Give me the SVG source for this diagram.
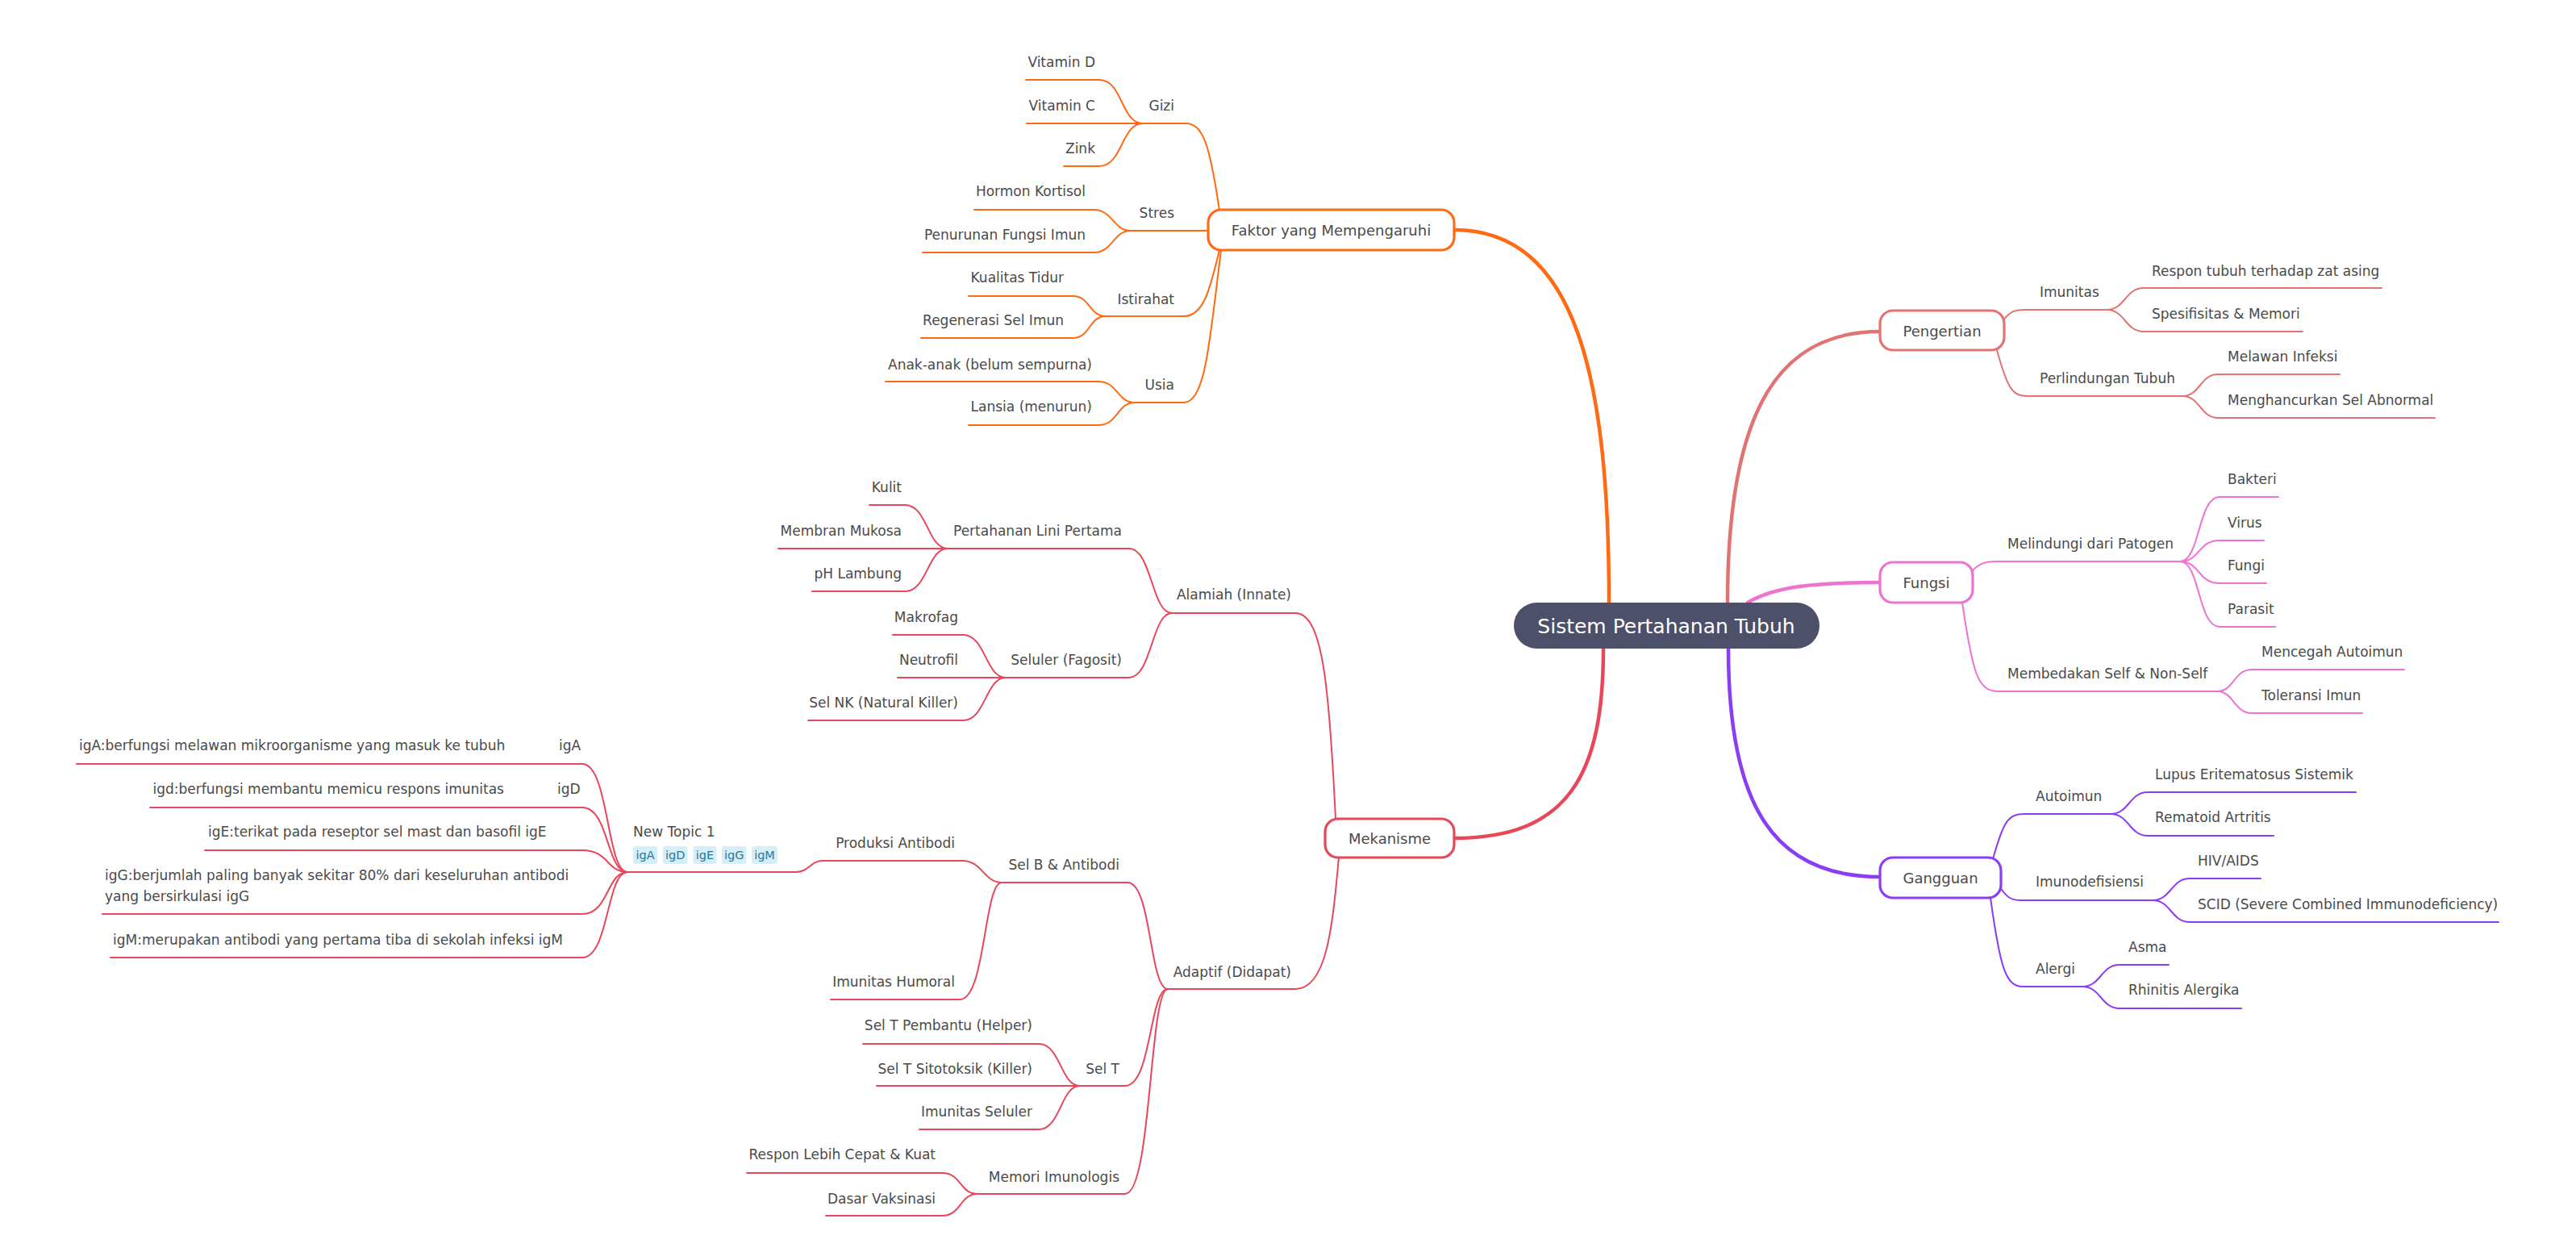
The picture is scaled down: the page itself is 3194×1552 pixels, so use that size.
<svg xmlns="http://www.w3.org/2000/svg" width="3194" height="1552" viewBox="0 0 3194 1552">
<style>
text{font-family:"DejaVu Sans","Liberation Sans",sans-serif;font-size:17px;fill:#4a4a4a}
.e{text-anchor:end}
.mid{text-anchor:middle}
.big{font-size:18px}
.root{font-size:25px;fill:#ffffff}
.tag{font-size:14.5px;fill:#2b7896}
.tagbg{fill:#d4eff7}
path,line{fill:none;stroke-linecap:round}
.o{stroke:#ff6a13}.r{stroke:#e8475a}.s{stroke:#e07472}.p{stroke:#ec74cf}.v{stroke:#8b3cf5}
.thin{stroke-width:2}
.main{stroke-width:4.5}
.box{fill:#ffffff;stroke-width:3.2}
</style>
<rect width="3194" height="1552" fill="#ffffff"/>
<g id="connectors">
<path class="o main" d="M1803,285 C1955,285 1995,470 1995,747"/>
<path class="r main" d="M1803,1039 C1945,1039 1988,960 1988,804"/>
<path class="s main" d="M2142,747 C2142,500 2210,411 2331,411"/>
<path class="p main" d="M2167,747 C2200,727 2250,722 2331,722"/>
<path class="v main" d="M2143,804 C2143,1000 2200,1087 2331,1087"/>
<g class="o thin">
<path d="M1470,153 C1492,153 1500,180 1512,261"/>
<path d="M1363,99 C1392,99 1390,153 1417,153"/>
<path d="M1363,153 L1417,153"/>
<path d="M1363,206 C1392,206 1390,153 1417,153"/>
<path d="M1460,286 L1498,286"/>
<path d="M1356,260 C1380,260 1380,286 1402,286"/>
<path d="M1356,313 C1380,313 1380,286 1402,286"/>
<path d="M1468,392 C1492,392 1500,360 1512,310"/>
<path d="M1330,367 C1352,367 1350,392 1371,392"/>
<path d="M1330,419 C1352,419 1350,392 1371,392"/>
<path d="M1468,499 C1495,499 1500,420 1514,310"/>
<path d="M1362,473 C1386,473 1385,499 1407,499"/>
<path d="M1362,527 C1386,527 1385,499 1407,499"/>
</g>
<g class="r thin">
<path d="M1606,760 C1640,760 1648,850 1656,1015"/>
<path d="M1400,680 C1428,680 1428,760 1453,760"/>
<path d="M1122,626 C1150,626 1150,680 1175,680"/>
<path d="M1122,680 L1175,680"/>
<path d="M1122,733 C1150,733 1150,680 1175,680"/>
<path d="M1400,840 C1428,840 1428,760 1453,760"/>
<path d="M1194,787 C1222,787 1222,840 1247,840"/>
<path d="M1194,840 L1247,840"/>
<path d="M1194,893 C1222,893 1222,840 1247,840"/>
<path d="M1606,1226 C1645,1226 1652,1150 1660,1063"/>
<path d="M1398,1094 C1428,1094 1425,1226 1448,1226"/>
<path d="M1193,1067 C1218,1067 1220,1094 1242,1094"/>
<path d="M987,1081 C1003,1081 1005,1067 1020,1067"/>
<path d="M722,947 C755,947 752,1081 778,1081"/>
<path d="M722,1001 C755,1001 752,1081 778,1081"/>
<path d="M722,1054 C755,1054 752,1081 778,1081"/>
<path d="M722,1133 C755,1133 752,1081 778,1081"/>
<path d="M722,1187 C755,1187 752,1081 778,1081"/>
<path d="M1190,1239 C1222,1239 1220,1094 1242,1094"/>
<path d="M1395,1346 C1428,1346 1425,1226 1448,1226"/>
<path d="M1288,1294 C1315,1294 1315,1346 1339,1346"/>
<path d="M1288,1346 L1339,1346"/>
<path d="M1288,1400 C1315,1400 1315,1346 1339,1346"/>
<path d="M1395,1480 C1428,1480 1425,1226 1448,1226"/>
<path d="M1168,1454 C1192,1454 1190,1480 1212,1480"/>
<path d="M1168,1507 C1192,1507 1190,1480 1212,1480"/>
</g>
<g class="s thin">
<path d="M2484,397 C2492,386 2498,384 2512,384"/>
<path d="M2612,384 C2635,384 2635,357 2658,357"/>
<path d="M2612,384 C2635,384 2635,411 2658,411"/>
<path d="M2476,434 C2490,485 2496,491 2515,491"/>
<path d="M2706,491 C2728,491 2728,464 2750,464"/>
<path d="M2706,491 C2728,491 2728,518 2750,518"/>
</g>
<g class="p thin">
<path d="M2446,707 C2455,698 2462,696 2476,696"/>
<path d="M2703,696 C2728,696 2725,616 2752,616"/>
<path d="M2703,696 C2728,696 2725,670 2752,670"/>
<path d="M2703,696 C2728,696 2725,723 2752,723"/>
<path d="M2703,696 C2728,696 2725,777 2752,777"/>
<path d="M2433,747 C2446,835 2452,857 2478,857"/>
<path d="M2749,857 C2770,857 2770,830 2792,830"/>
<path d="M2749,857 C2770,857 2770,884 2792,884"/>
</g>
<g class="v thin">
<path d="M2471,1065 C2484,1018 2490,1009 2510,1009"/>
<path d="M2617,1009 C2640,1009 2640,982 2663,982"/>
<path d="M2617,1009 C2640,1009 2640,1036 2663,1036"/>
<path d="M2480,1100 C2488,1112 2493,1116 2506,1116"/>
<path d="M2669,1116 C2692,1116 2692,1089 2715,1089"/>
<path d="M2669,1116 C2692,1116 2692,1143 2715,1143"/>
<path d="M2468,1113 C2480,1200 2487,1223 2508,1223"/>
<path d="M2582,1223 C2605,1223 2605,1196 2628,1196"/>
<path d="M2582,1223 C2605,1223 2605,1250 2628,1250"/>
</g>
</g>

<g id="root"><rect x="1877" y="747" width="379" height="57" rx="28.5" fill="#4c506a"/><text class="root mid" x="2066" y="785">Sistem Pertahanan Tubuh</text></g>

<g id="faktor"><rect class="box o" x="1498" y="260" width="305" height="50" rx="16"/><text class="big mid" x="1650.5" y="292">Faktor yang Mempengaruhi</text></g>
<g id="gizi"><text class="e" x="1456" y="137">Gizi</text><path class="o thin" d="M1417,153 H1470"/></g>
<g id="vitd"><text class="e" x="1358" y="83">Vitamin D</text><path class="o thin" d="M1272,99 H1363"/></g>
<g id="vitc"><text class="e" x="1358" y="137">Vitamin C</text><path class="o thin" d="M1273,153 H1363"/></g>
<g id="zink"><text class="e" x="1358" y="190">Zink</text><path class="o thin" d="M1319,206 H1363"/></g>
<g id="stres"><text class="e" x="1456" y="270">Stres</text><path class="o thin" d="M1402,286 H1460"/></g>
<g id="kortisol"><text class="e" x="1346" y="243">Hormon Kortisol</text><path class="o thin" d="M1208,260 H1356"/></g>
<g id="penurunan"><text class="e" x="1346" y="297">Penurunan Fungsi Imun</text><path class="o thin" d="M1144,313 H1356"/></g>
<g id="istirahat"><text class="e" x="1456" y="377">Istirahat</text><path class="o thin" d="M1371,392 H1468"/></g>
<g id="tidur"><text class="e" x="1319" y="350">Kualitas Tidur</text><path class="o thin" d="M1201,367 H1330"/></g>
<g id="regenerasi"><text class="e" x="1319" y="403">Regenerasi Sel Imun</text><path class="o thin" d="M1142,419 H1330"/></g>
<g id="usia"><text class="e" x="1456" y="483">Usia</text><path class="o thin" d="M1407,499 H1468"/></g>
<g id="anak"><text class="e" x="1354" y="458">Anak-anak (belum sempurna)</text><path class="o thin" d="M1098,473 H1362"/></g>
<g id="lansia"><text class="e" x="1354" y="510">Lansia (menurun)</text><path class="o thin" d="M1201,527 H1362"/></g>

<g id="mekanisme"><rect class="box r" x="1643" y="1015" width="160" height="48" rx="16"/><text class="big mid" x="1723" y="1046">Mekanisme</text></g>
<g id="alamiah"><text class="e" x="1601" y="743">Alamiah (Innate)</text><path class="r thin" d="M1453,760 H1606"/></g>
<g id="lini"><text class="e" x="1391" y="664">Pertahanan Lini Pertama</text><path class="r thin" d="M1175,680 H1400"/></g>
<g id="kulit"><text class="e" x="1118" y="610">Kulit</text><path class="r thin" d="M1078,626 H1122"/></g>
<g id="mukosa"><text class="e" x="1118" y="664">Membran Mukosa</text><path class="r thin" d="M965,680 H1122"/></g>
<g id="ph"><text class="e" x="1118" y="717">pH Lambung</text><path class="r thin" d="M1007,733 H1122"/></g>
<g id="seluler"><text class="e" x="1391" y="824">Seluler (Fagosit)</text><path class="r thin" d="M1247,840 H1400"/></g>
<g id="makrofag"><text class="e" x="1188" y="771">Makrofag</text><path class="r thin" d="M1107,787 H1194"/></g>
<g id="neutrofil"><text class="e" x="1188" y="824">Neutrofil</text><path class="r thin" d="M1113,840 H1194"/></g>
<g id="nk"><text class="e" x="1188" y="877">Sel NK (Natural Killer)</text><path class="r thin" d="M1002,893 H1194"/></g>
<g id="adaptif"><text class="e" x="1601" y="1211">Adaptif (Didapat)</text><path class="r thin" d="M1448,1226 H1606"/></g>
<g id="selb"><text class="e" x="1388" y="1078">Sel B &amp; Antibodi</text><path class="r thin" d="M1242,1094 H1398"/></g>
<g id="produksi"><text class="e" x="1184" y="1051">Produksi Antibodi</text><path class="r thin" d="M1020,1067 H1193"/></g>
<g id="newtopic"><text x="785" y="1037">New Topic 1</text><path class="r thin" d="M778,1081 H987"/>
<rect class="tagbg" x="785" y="1049" width="30" height="22" rx="3"/><text class="tag mid" x="800" y="1065">igA</text>
<rect class="tagbg" x="822" y="1049" width="30.5" height="22" rx="3"/><text class="tag mid" x="837.2" y="1065">igD</text>
<rect class="tagbg" x="859.5" y="1049" width="29" height="22" rx="3"/><text class="tag mid" x="874" y="1065">igE</text>
<rect class="tagbg" x="895" y="1049" width="30.5" height="22" rx="3"/><text class="tag mid" x="910.2" y="1065">igG</text>
<rect class="tagbg" x="932" y="1049" width="32" height="22" rx="3"/><text class="tag mid" x="948" y="1065">igM</text></g>
<g id="iga"><text y="930"><tspan x="98">igA:berfungsi melawan mikroorganisme yang masuk ke tubuh</tspan><tspan x="693">igA</tspan></text><path class="r thin" d="M95,947 H722"/></g>
<g id="igd"><text y="984"><tspan x="189.5">igd:berfungsi membantu memicu respons imunitas</tspan><tspan x="691">igD</tspan></text><path class="r thin" d="M186,1001 H722"/></g>
<g id="ige"><text x="258" y="1037">igE:terikat pada reseptor sel mast dan basofil igE</text><path class="r thin" d="M254,1054 H722"/></g>
<g id="igg"><text x="130" y="1091">igG:berjumlah paling banyak sekitar 80% dari keseluruhan antibodi</text><text x="130" y="1117">yang bersirkulasi igG</text><path class="r thin" d="M127,1133 H722"/></g>
<g id="igm"><text x="140" y="1171">igM:merupakan antibodi yang pertama tiba di sekolah infeksi igM</text><path class="r thin" d="M137,1187 H722"/></g>
<g id="humoral"><text class="e" x="1184" y="1223">Imunitas Humoral</text><path class="r thin" d="M1030,1239 H1190"/></g>
<g id="selt"><text class="e" x="1388" y="1331">Sel T</text><path class="r thin" d="M1339,1346 H1395"/></g>
<g id="helper"><text class="e" x="1280" y="1277">Sel T Pembantu (Helper)</text><path class="r thin" d="M1070,1294 H1288"/></g>
<g id="killer"><text class="e" x="1280" y="1331">Sel T Sitotoksik (Killer)</text><path class="r thin" d="M1087,1346 H1288"/></g>
<g id="selulerimun"><text class="e" x="1280" y="1384">Imunitas Seluler</text><path class="r thin" d="M1140,1400 H1288"/></g>
<g id="memori"><text class="e" x="1388" y="1465">Memori Imunologis</text><path class="r thin" d="M1212,1480 H1395"/></g>
<g id="respon"><text class="e" x="1160" y="1437">Respon Lebih Cepat &amp; Kuat</text><path class="r thin" d="M926,1454 H1168"/></g>
<g id="vaksin"><text class="e" x="1160" y="1492">Dasar Vaksinasi</text><path class="r thin" d="M1024,1507 H1168"/></g>

<g id="pengertian"><rect class="box s" x="2331" y="385" width="154" height="49" rx="16"/><text class="big mid" x="2408" y="417">Pengertian</text></g>
<g id="imunitas"><text x="2529" y="368">Imunitas</text><path class="s thin" d="M2512,384 H2612"/></g>
<g id="responasing"><text x="2668" y="342">Respon tubuh terhadap zat asing</text><path class="s thin" d="M2658,357 H2953"/></g>
<g id="spesifisitas"><text x="2668" y="395">Spesifisitas &amp; Memori</text><path class="s thin" d="M2658,411 H2855"/></g>
<g id="perlindungan"><text x="2529" y="475">Perlindungan Tubuh</text><path class="s thin" d="M2515,491 H2706"/></g>
<g id="melawan"><text x="2762" y="448">Melawan Infeksi</text><path class="s thin" d="M2750,464 H2901"/></g>
<g id="menghancurkan"><text x="2762" y="502">Menghancurkan Sel Abnormal</text><path class="s thin" d="M2750,518 H3019"/></g>

<g id="fungsi"><rect class="box p" x="2331" y="697" width="115" height="50" rx="16"/><text class="big mid" x="2388.5" y="729">Fungsi</text></g>
<g id="melindungi"><text x="2489" y="680">Melindungi dari Patogen</text><path class="p thin" d="M2476,696 H2703"/></g>
<g id="bakteri"><text x="2762" y="600">Bakteri</text><path class="p thin" d="M2752,616 H2825"/></g>
<g id="virus"><text x="2762" y="654">Virus</text><path class="p thin" d="M2752,670 H2807"/></g>
<g id="fungi"><text x="2762" y="707">Fungi</text><path class="p thin" d="M2752,723 H2810"/></g>
<g id="parasit"><text x="2762" y="761">Parasit</text><path class="p thin" d="M2752,777 H2821"/></g>
<g id="membedakan"><text x="2489" y="841">Membedakan Self &amp; Non-Self</text><path class="p thin" d="M2478,857 H2749"/></g>
<g id="mencegah"><text x="2804" y="814">Mencegah Autoimun</text><path class="p thin" d="M2792,830 H2981"/></g>
<g id="toleransi"><text x="2804" y="868">Toleransi Imun</text><path class="p thin" d="M2792,884 H2929"/></g>

<g id="gangguan"><rect class="box v" x="2331" y="1063" width="150" height="50" rx="16"/><text class="big mid" x="2406" y="1095">Gangguan</text></g>
<g id="autoimun"><text x="2524" y="993">Autoimun</text><path class="v thin" d="M2510,1009 H2617"/></g>
<g id="lupus"><text x="2672" y="966">Lupus Eritematosus Sistemik</text><path class="v thin" d="M2663,982 H2921"/></g>
<g id="rematoid"><text x="2672" y="1019">Rematoid Artritis</text><path class="v thin" d="M2663,1036 H2819"/></g>
<g id="imunodef"><text x="2524" y="1099">Imunodefisiensi</text><path class="v thin" d="M2506,1116 H2669"/></g>
<g id="hiv"><text x="2725" y="1073">HIV/AIDS</text><path class="v thin" d="M2715,1089 H2803"/></g>
<g id="scid"><text x="2725" y="1127">SCID (Severe Combined Immunodeficiency)</text><path class="v thin" d="M2715,1143 H3098"/></g>
<g id="alergi"><text x="2524" y="1207">Alergi</text><path class="v thin" d="M2508,1223 H2582"/></g>
<g id="asma"><text x="2639" y="1180">Asma</text><path class="v thin" d="M2628,1196 H2689"/></g>
<g id="rhinitis"><text x="2639" y="1233">Rhinitis Alergika</text><path class="v thin" d="M2628,1250 H2779"/></g>
</svg>
